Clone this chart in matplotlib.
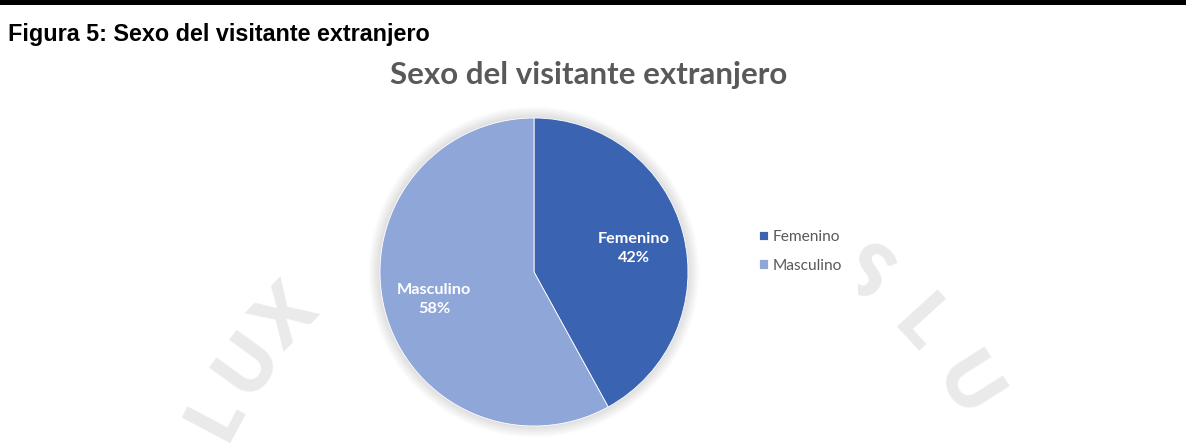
"""
Pie chart: sexo del visitante extranjero (Figura 5).
"""

import matplotlib.pyplot as plt
import numpy as np
from matplotlib.patches import Circle, Rectangle


categories = ["Femenino", "Masculino"]
percentages = [42, 58]
slice_colors = ["#3A64B1", "#8FA6D9"]

CAPTION = "Figura 5: Sexo del visitante extranjero"
CHART_TITLE = "Sexo del visitante extranjero"
WATERMARK_LEFT = "LUX"
WATERMARK_RIGHT = "SLU"

FIG_W, FIG_H = 1186, 445
PIE_CENTER = (534, 272)
PIE_RADIUS = 154


def py(y):
    # canvas is laid out top-down in pixels, axes run bottom-up
    return FIG_H - y


def draw_watermark(ax):
    # faint seal lettering around a large ring behind the chart
    cx, cy, ring = 600, py(620), 435
    for letters, start, step in [(WATERMARK_LEFT, 152.0, -8.0), (WATERMARK_RIGHT, 52.5, -10.0)]:
        for i, ch in enumerate(letters):
            ang = np.deg2rad(start + i * step)
            x = cx + ring * np.cos(ang)
            y = cy + ring * np.sin(ang)
            ax.text(x, y, ch, fontsize=54, fontweight="heavy", family="Lato",
                    color="#EAEAEA", rotation=np.rad2deg(ang) - 90,
                    ha="center", va="center", zorder=0)


def main() -> None:
    fig = plt.figure(figsize=(FIG_W / 100, FIG_H / 100), dpi=100)
    ax = fig.add_axes([0, 0, 1, 1])

    draw_watermark(ax)

    # white chart area sits over the watermark
    ax.add_patch(Rectangle((336, py(433)), 522, 385, facecolor="white",
                           edgecolor="none", zorder=1))

    # soft shadow round the pie
    center = (PIE_CENTER[0], py(PIE_CENTER[1]))
    for i in range(16):
        ax.add_patch(Circle(center, PIE_RADIUS + 1 + i * 0.7,
                            facecolor="#000000", edgecolor="none",
                            alpha=0.009, zorder=2))

    wedges, _ = ax.pie(
        percentages,
        colors=slice_colors,
        startangle=90,
        counterclock=False,
        center=center,
        radius=PIE_RADIUS,
        wedgeprops=dict(edgecolor="white", linewidth=0.6),
    )
    for w in wedges:
        w.set_zorder(3)

    for w, name, pct in zip(wedges, categories, percentages):
        mid = np.deg2rad((w.theta1 + w.theta2) / 2)
        x = w.center[0] + 0.67 * w.r * np.cos(mid)
        y = w.center[1] + 0.67 * w.r * np.sin(mid)
        ax.text(x, y - 2, f"{name}\n{pct}%", ha="center", va="center",
                fontsize=11.7, fontweight="bold", family="Lato", color="white",
                linespacing=1.5, zorder=4)

    ax.legend(
        wedges, categories,
        loc="upper left",
        bbox_to_anchor=(745, py(216)),
        bbox_transform=ax.transData,
        frameon=False,
        handlelength=0.6,
        handleheight=0.6,
        handletextpad=0.3,
        labelspacing=0.95,
        prop={"family": "Lato", "size": 11.2},
        labelcolor="#595959",
    )

    ax.set_xlim(0, FIG_W)
    ax.set_ylim(0, FIG_H)
    ax.set_aspect("auto")
    ax.axis("off")

    # black rule along the top edge
    ax.add_patch(Rectangle((0, py(5)), FIG_W, 5, facecolor="black",
                           edgecolor="none", zorder=5))

    ax.text(8, py(34), CAPTION, ha="left", va="center", fontsize=16.8,
            fontweight="bold", family="Liberation Sans", color="black")
    ax.text(589, py(75), CHART_TITLE, ha="center", va="center", fontsize=22.5,
            fontweight="bold", family="Lato", color="#595959", zorder=5)

    fig.savefig("out.png", dpi=100)
    plt.close(fig)


if __name__ == "__main__":
    main()
